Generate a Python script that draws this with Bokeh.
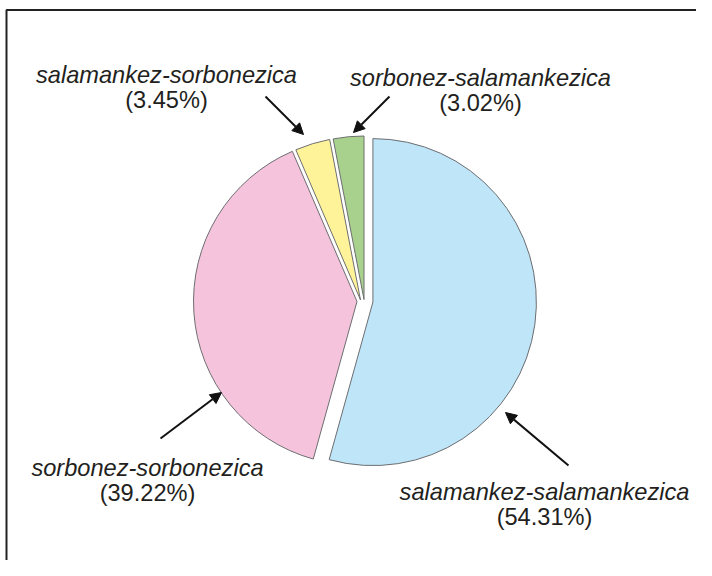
import math
from bokeh.plotting import figure
from bokeh.models import Range1d, Arrow, NormalHead, ColumnDataSource
from bokeh.core.properties import value
from bokeh.embed import file_html
from bokeh.resources import INLINE

# ---- data ----
names = ["salamankez-salamankezica", "sorbonez-sorbonezica",
         "salamankez-sorbonezica", "sorbonez-salamankezica"]
shares = [54.31, 39.22, 3.45, 3.02]
colors = ["#bee5f8", "#f5c4dc", "#fff399", "#a8d18d"]

# ---- layout (screen px) ----
W, H = 696, 560
CX, CY, R = 364.5, 300.5, 163.5
explode = [(7.9, 1.1), (-8.0, 0.5), (-4.5, -1.0), (-1.0, -1.5)]   # screen dx, dy
label_pos = [(544, 491), (147, 467), (166, 74), (480, 77)]         # baseline of first line
LINE_GAP = 25
arrows = [((568, 465), (505, 412)), ((160, 438), (221, 392)),
          ((265, 96), (303, 134)), ((389, 96), (353, 132))]

def dx(sx):
    return sx

def dy(sy):
    return H - sy

p = figure(width=W, height=H, output_backend="svg", toolbar_location=None,
           x_range=Range1d(0, W), y_range=Range1d(0, H),
           x_axis_type=None, y_axis_type=None, min_border=0,
           outline_line_color=None, background_fill_color="white",
           border_fill_color="white")
p.grid.visible = False

# frame (top and left edges only)
p.line(x=[dx(6), dx(6), dx(W)], y=[dy(H + 20), dy(9.5), dy(9.5)],
       line_color="#222222", line_width=2)

total = sum(shares)
cum = 0.0
xs, ys, starts, ends = [], [], [], []
for s, (ox, oy) in zip(shares, explode):
    a0 = cum / total
    cum += s
    a1 = cum / total
    starts.append(math.pi / 2 - 2 * math.pi * a1)
    ends.append(math.pi / 2 - 2 * math.pi * a0)
    xs.append(dx(CX + ox))
    ys.append(dy(CY + oy))

src = ColumnDataSource(dict(x=xs, y=ys, start=starts, end=ends, color=colors))
p.wedge(x="x", y="y", radius=R, start_angle="start", end_angle="end",
        fill_color="color", line_color="#6d6e71", line_width=1, source=src)

# labels
l1x, l1y, l2y, t2 = [], [], [], []
for (lx, ly), s in zip(label_pos, shares):
    l1x.append(dx(lx))
    l1y.append(dy(ly))
    l2y.append(dy(ly + LINE_GAP))
    t2.append("(%.2f%%)" % s)

p.text(x=l1x, y=l1y, text=names, text_align="center", text_baseline="alphabetic",
       text_font=value("Liberation Sans"), text_font_size="23.6px",
       text_font_style="italic", text_color="#231f20")
p.text(x=l1x, y=l2y, text=t2, text_align="center", text_baseline="alphabetic",
       text_font=value("Liberation Sans"), text_font_size="23.6px",
       text_color="#231f20")

for (s0, s1) in arrows:
    p.add_layout(Arrow(end=NormalHead(size=11, fill_color="#111111", line_color="#111111"),
                       x_start=dx(s0[0]), y_start=dy(s0[1]),
                       x_end=dx(s1[0]), y_end=dy(s1[1]),
                       line_color="#111111", line_width=2))

open("out.html", "w").write(file_html(p, INLINE))
